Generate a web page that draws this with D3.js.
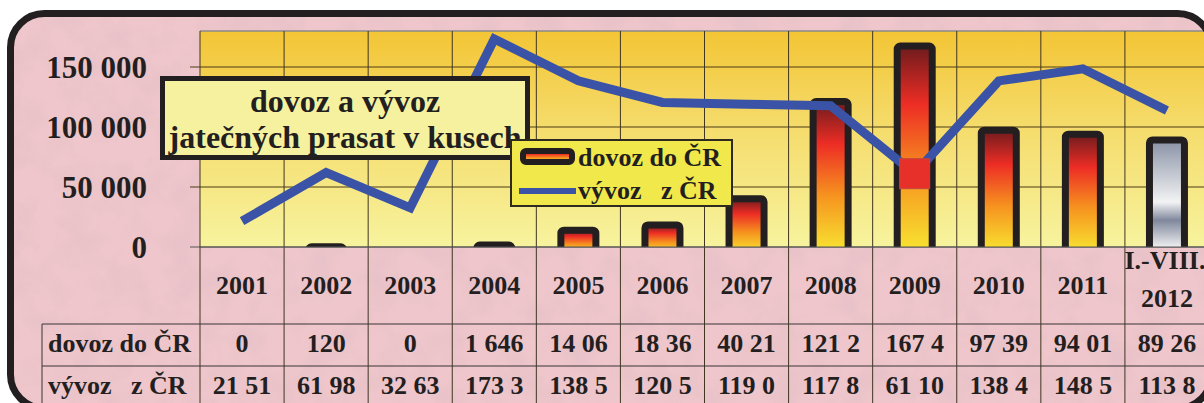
<!DOCTYPE html>
<html>
<head>
<meta charset="utf-8">
<script src="https://cdn.jsdelivr.net/npm/d3@7"></script>
<style>
  body { margin: 0; background: #fff; }
  svg { display: block; }
  text { font-family: "Liberation Serif", "Times New Roman", serif; font-weight: bold; fill: #231f20; }
</style>
</head>
<body>
<div id="chart"></div>
<script>
// data
const years = ["2001", "2002", "2003", "2004", "2005", "2006", "2007", "2008", "2009", "2010", "2011", "I.-VIII. 2012"];
const dovoz = [0, 120, 0, 1646, 14060, 18360, 40210, 121200, 167400, 97390, 94010, 89260];
const vyvoz = [21510, 61980, 32630, 173300, 138500, 120500, 119000, 117800, 61100, 138400, 148500, 113800];
// the table cells are cut off in the original, keep them as shown
const dovozText = ["0", "120", "0", "1 646", "14 06", "18 36", "40 21", "121 2", "167 4", "97 39", "94 01", "89 26"];
const vyvozText = ["21 51", "61 98", "32 63", "173 3", "138 5", "120 5", "119 0", "117 8", "61 10", "138 4", "148 5", "113 8"];
const yTicks = [0, 50000, 100000, 150000];

const width = 1204, height = 403;
const plotLeft = 200, plotRight = 1209, plotTop = 31, baseY = 247;

const svg = d3.select("#chart").append("svg")
  .attr("width", width)
  .attr("height", height);

const defs = svg.append("defs");

// frame clip
defs.append("clipPath").attr("id", "frameClip")
  .append("rect")
  .attr("x", 10.5).attr("y", 13.5)
  .attr("width", 1201).attr("height", 395)
  .attr("rx", 34);

// pink mottled paper
const tex = defs.append("filter").attr("id", "tex")
  .attr("x", 0).attr("y", 0).attr("width", "100%").attr("height", "100%");
tex.append("feTurbulence")
  .attr("type", "fractalNoise")
  .attr("baseFrequency", "0.03")
  .attr("numOctaves", 4)
  .attr("seed", 7);
tex.append("feColorMatrix")
  .attr("type", "matrix")
  .attr("values", "0 0 0 0 0.76  0 0 0 0 0.52  0 0 0 0 0.57  2.2 0 0 0 -0.95");

// plot background gradient
const bg = defs.append("linearGradient").attr("id", "plotBg")
  .attr("x1", 0).attr("y1", 0).attr("x2", 0).attr("y2", 1);
bg.append("stop").attr("offset", "0%").attr("stop-color", "#f3c535");
bg.append("stop").attr("offset", "45%").attr("stop-color", "#f5dc6c");
bg.append("stop").attr("offset", "100%").attr("stop-color", "#f7f39e");

const red = defs.append("linearGradient").attr("id", "redGrad")
  .attr("x1", 0).attr("y1", 0).attr("x2", 0).attr("y2", 1);
red.append("stop").attr("offset", "0%").attr("stop-color", "#6e1b1d");
red.append("stop").attr("offset", "28%").attr("stop-color", "#ed2d25");
red.append("stop").attr("offset", "62%").attr("stop-color", "#f6931f");
red.append("stop").attr("offset", "100%").attr("stop-color", "#f8e732");

const silver = defs.append("linearGradient").attr("id", "silverGrad")
  .attr("x1", 0).attr("y1", 0).attr("x2", 0).attr("y2", 1);
silver.append("stop").attr("offset", "0%").attr("stop-color", "#8891a5");
silver.append("stop").attr("offset", "55%").attr("stop-color", "#f3f3f4");
silver.append("stop").attr("offset", "71%").attr("stop-color", "#7f889c");
silver.append("stop").attr("offset", "96%").attr("stop-color", "#f4f4f5");

const g = svg.append("g").attr("clip-path", "url(#frameClip)");

g.append("rect")
  .attr("width", width).attr("height", height + 10)
  .attr("fill", "#eec6cb");
g.append("rect")
  .attr("width", width).attr("height", height + 10)
  .attr("filter", "url(#tex)")
  .attr("opacity", 0.6);

// scales
const x = d3.scaleBand()
  .domain(years)
  .range([plotLeft, plotRight])
  .padding(0);

const y = d3.scaleLinear()
  .domain([0, 180000])
  .range([baseY, plotTop]);

const cx = d => x(d) + x.bandwidth() / 2;

// plot area
g.append("rect")
  .attr("x", plotLeft).attr("y", plotTop)
  .attr("width", plotRight - plotLeft).attr("height", baseY - plotTop)
  .attr("fill", "url(#plotBg)");

g.append("line")
  .attr("x1", plotLeft).attr("x2", plotRight)
  .attr("y1", plotTop).attr("y2", plotTop)
  .attr("stroke", "#8a8a8a").attr("stroke-width", 1.5);

// horizontal grid + ticks
g.append("g").selectAll("line")
  .data(yTicks)
  .enter().append("line")
  .attr("x1", plotLeft - 10).attr("x2", plotRight)
  .attr("y1", d => y(d)).attr("y2", d => y(d))
  .attr("stroke", d => d === 0 ? "#555" : "#4a3d17")
  .attr("stroke-width", 1);

g.append("g").selectAll("text")
  .data(yTicks)
  .enter().append("text")
  .attr("x", 147)
  .attr("y", d => y(d))
  .attr("dy", "0.34em")
  .attr("text-anchor", "end")
  .style("font-size", "31px")
  .text(d => d3.format(",")(d).replace(/,/g, " "));

// vertical lines through plot and table
const colEdges = years.map(d => x(d)).concat([plotRight]);
g.append("g").selectAll("line")
  .data(colEdges)
  .enter().append("line")
  .attr("x1", d => d).attr("x2", d => d)
  .attr("y1", plotTop).attr("y2", height + 10)
  .attr("stroke", "#3f3520").attr("stroke-width", 1);

// table lines
const rowTop1 = 324, rowTop2 = 366;
[rowTop1, rowTop2].forEach(ry => {
  g.append("line")
    .attr("x1", 42).attr("x2", plotRight)
    .attr("y1", ry).attr("y2", ry)
    .attr("stroke", "#3a3434").attr("stroke-width", 1);
});
g.append("line")
  .attr("x1", 42).attr("x2", 42)
  .attr("y1", rowTop1).attr("y2", height + 10)
  .attr("stroke", "#3a3434").attr("stroke-width", 1);

// bars (years with no import get no bar)
const barW = 35;
const barData = years.map((d, i) => ({ year: d, v: dovoz[i], last: i === years.length - 1 }))
  .filter(d => d.v > 0);

const barClip = defs.append("clipPath").attr("id", "plotClip");
barClip.append("rect")
  .attr("x", plotLeft).attr("y", 0)
  .attr("width", plotRight - plotLeft).attr("height", baseY);

g.append("g")
  .attr("clip-path", "url(#plotClip)")
  .selectAll("rect")
  .data(barData)
  .enter().append("rect")
  .attr("x", d => cx(d.year) - barW / 2)
  .attr("y", d => y(d.v))
  .attr("width", barW)
  .attr("height", d => baseY - y(d.v) + 6)
  .attr("rx", 3)
  .attr("fill", d => d.last ? "url(#silverGrad)" : "url(#redGrad)")
  .attr("stroke", "#231f20")
  .attr("stroke-width", 7)
  .attr("stroke-linejoin", "round");

g.append("line")
  .attr("x1", plotLeft).attr("x2", plotRight)
  .attr("y1", baseY).attr("y2", baseY)
  .attr("stroke", "#555").attr("stroke-width", 1);

// export line
const line = d3.line()
  .x((d, i) => cx(years[i]))
  .y(d => y(d));

g.append("path")
  .datum(vyvoz)
  .attr("d", line)
  .attr("fill", "none")
  .attr("stroke", "#3a53a6")
  .attr("stroke-width", 9)
  .attr("stroke-linejoin", "miter");

// highlighted 2009 point
const hi = years.indexOf("2009");
g.append("rect")
  .attr("x", cx(years[hi]) - 15)
  .attr("y", y(vyvoz[hi]) - 15)
  .attr("width", 30).attr("height", 30)
  .attr("fill", "#e8302a")
  .attr("stroke", "#c4473d").attr("stroke-width", 1);

// title box
g.append("rect")
  .attr("x", 162.5).attr("y", 78.5)
  .attr("width", 365).attr("height", 79)
  .attr("fill", "#f6f19f")
  .attr("stroke", "#231f20").attr("stroke-width", 5);

const title = ["dovoz a vývoz", "jatečných prasat v kusech"];
g.append("g").selectAll("text")
  .data(title)
  .enter().append("text")
  .attr("x", 345)
  .attr("y", (d, i) => 112 + i * 36)
  .attr("text-anchor", "middle")
  .style("font-size", "32px")
  .text(d => d);

// legend
const lg = g.append("g");
lg.append("rect")
  .attr("x", 511).attr("y", 140)
  .attr("width", 221).attr("height", 66)
  .attr("fill", "#f1e84b")
  .attr("stroke", "#2e2a20").attr("stroke-width", 2);
lg.append("rect")
  .attr("x", 523).attr("y", 151)
  .attr("width", 49).attr("height", 11)
  .attr("rx", 3)
  .attr("fill", "url(#redGrad)")
  .attr("stroke", "#231f20").attr("stroke-width", 6);
lg.append("line")
  .attr("x1", 519).attr("x2", 576)
  .attr("y1", 191).attr("y2", 191)
  .attr("stroke", "#3a53a6").attr("stroke-width", 6);
lg.append("text")
  .attr("x", 578).attr("y", 166)
  .style("font-size", "26px")
  .text("dovoz do ČR");
lg.append("text")
  .attr("x", 578).attr("y", 199)
  .style("font-size", "26px")
  .style("white-space", "pre")
  .text("vývoz   z ČR");

// table text
const header = g.append("g").selectAll("text")
  .data(years)
  .enter().append("text")
  .attr("x", d => cx(d))
  .attr("text-anchor", "middle")
  .style("font-size", "26px");
header.each(function (d) {
  const parts = d.split(" ");
  const t = d3.select(this);
  if (parts.length === 1) {
    t.attr("y", 294).text(d);
  } else {
    t.append("tspan").attr("x", cx(d) - 2).attr("y", 269).text(parts[0]);
    t.append("tspan").attr("x", cx(d)).attr("y", 307).text(parts[1]);
  }
});

const rows = [
  { label: "dovoz do ČR", vals: dovozText, base: 352 },
  { label: "vývoz   z ČR", vals: vyvozText, base: 394 }
];
rows.forEach(r => {
  g.append("text")
    .attr("x", 48).attr("y", r.base)
    .style("font-size", "26px")
    .style("white-space", "pre")
    .text(r.label);
  g.append("g").selectAll("text")
    .data(r.vals)
    .enter().append("text")
    .attr("x", (d, i) => cx(years[i]))
    .attr("y", r.base)
    .attr("text-anchor", "middle")
    .style("font-size", "26px")
    .text(d => d);
});

// frame
svg.append("rect")
  .attr("x", 10.5).attr("y", 13.5)
  .attr("width", 1201).attr("height", 395)
  .attr("rx", 34)
  .attr("fill", "none")
  .attr("stroke", "#231f20")
  .attr("stroke-width", 7);
</script>
</body>
</html>
